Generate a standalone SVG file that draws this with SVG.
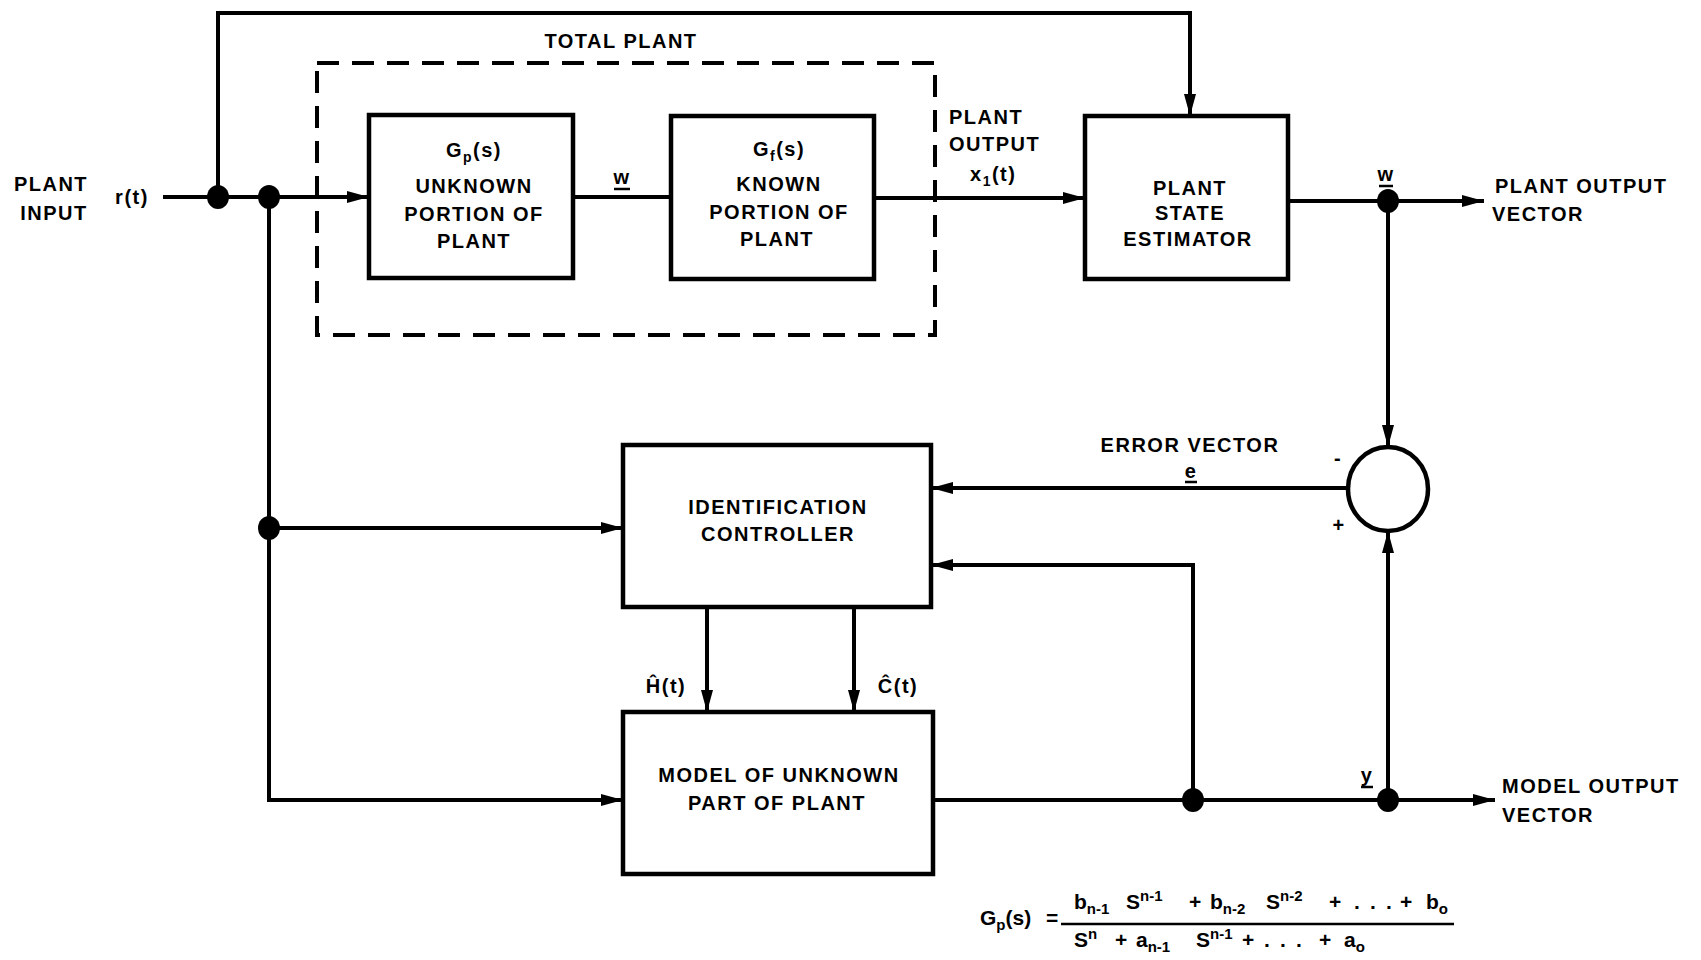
<svg xmlns="http://www.w3.org/2000/svg" width="1701" height="960" viewBox="0 0 1701 960">
<style>
.box{fill:none;stroke:#000;stroke-width:4.5}
.ln{fill:none;stroke:#000;stroke-width:4}
.dash{fill:none;stroke:#000;stroke-width:4;stroke-dasharray:22 13}
.t{font-family:"Liberation Sans",Arial,sans-serif;font-weight:bold;font-size:20px;letter-spacing:1.5px;fill:#000}
.m{text-anchor:middle}
.f{font-family:"Liberation Sans",Arial,sans-serif;font-weight:bold;font-size:21px;fill:#000}
.s{font-size:15px}
.dot{fill:#000}
</style>
<defs>
<marker id="ar" markerUnits="userSpaceOnUse" markerWidth="24" markerHeight="16" refX="22" refY="8" orient="auto">
<path d="M0,2 L22,8 L0,14 Z" fill="#000"/>
</marker>
</defs>
<rect width="1701" height="960" fill="#fff"/>

<g id="total-plant">
<rect class="dash" x="317" y="63" width="618" height="272"/>
<text class="t m" x="621" y="48">TOTAL PLANT</text>
</g>

<g id="gp-box">
<rect class="box" x="369" y="115" width="204" height="163"/>
<text class="t m" x="474" y="157">G<tspan font-size="14" dy="5">p</tspan><tspan dy="-5">(s)</tspan></text>
<text class="t m" x="474" y="193">UNKNOWN</text>
<text class="t m" x="474" y="221">PORTION OF</text>
<text class="t m" x="474" y="248">PLANT</text>
</g>

<g id="gf-box">
<rect class="box" x="671" y="116" width="203" height="163"/>
<text class="t m" x="779" y="156">G<tspan font-size="14" dy="5">f</tspan><tspan dy="-5">(s)</tspan></text>
<text class="t m" x="779" y="191">KNOWN</text>
<text class="t m" x="779" y="219">PORTION OF</text>
<text class="t m" x="777" y="246">PLANT</text>
</g>

<g id="pse-box">
<rect class="box" x="1085" y="116" width="203" height="163"/>
<text class="t m" x="1190" y="195">PLANT</text>
<text class="t m" x="1190" y="220">STATE</text>
<text class="t m" x="1188" y="246">ESTIMATOR</text>
</g>

<g id="id-controller">
<rect class="box" x="623" y="445" width="308" height="162"/>
<text class="t m" x="778" y="514">IDENTIFICATION</text>
<text class="t m" x="778" y="541">CONTROLLER</text>
</g>

<g id="model-box">
<rect class="box" x="623" y="712" width="310" height="162"/>
<text class="t m" x="779" y="782">MODEL OF UNKNOWN</text>
<text class="t m" x="777" y="810">PART OF PLANT</text>
</g>

<g id="summer">
<ellipse class="box" cx="1388" cy="489" rx="40" ry="42"/>
<text class="t m" x="1338" y="465">-</text>
<text class="t m" x="1339" y="532">+</text>
</g>

<g id="connectors">
<path class="ln" d="M163,197 H369" marker-end="url(#ar)"/>
<path class="ln" d="M218,197 V13 H1190 V116" marker-end="url(#ar)"/>
<path class="ln" d="M573,197 H671"/>
<path class="ln" d="M874,198 H1085" marker-end="url(#ar)"/>
<path class="ln" d="M1288,201 H1484" marker-end="url(#ar)"/>
<path class="ln" d="M1388,201 V447" marker-end="url(#ar)"/>
<path class="ln" d="M1348,488 H931" marker-end="url(#ar)"/>
<path class="ln" d="M269,197 V800 H623" marker-end="url(#ar)"/>
<path class="ln" d="M269,528 H623" marker-end="url(#ar)"/>
<path class="ln" d="M707,607 V712" marker-end="url(#ar)"/>
<path class="ln" d="M854,607 V712" marker-end="url(#ar)"/>
<path class="ln" d="M933,800 H1495" marker-end="url(#ar)"/>
<path class="ln" d="M1193,800 V565 H931" marker-end="url(#ar)"/>
<path class="ln" d="M1388,800 V531" marker-end="url(#ar)"/>
<ellipse class="dot" cx="218" cy="197" rx="11" ry="12"/>
<ellipse class="dot" cx="269" cy="197" rx="11" ry="12"/>
<ellipse class="dot" cx="269" cy="528" rx="11" ry="12"/>
<ellipse class="dot" cx="1388" cy="201" rx="11" ry="12"/>
<ellipse class="dot" cx="1193" cy="800" rx="11" ry="12"/>
<ellipse class="dot" cx="1388" cy="800" rx="11" ry="12"/>
</g>

<g id="labels">
<text class="t m" x="51" y="191">PLANT</text>
<text class="t m" x="54" y="220">INPUT</text>
<text class="t m" x="132" y="204">r(t)</text>
<text class="t m" x="622" y="184">w</text>
<line x1="614" y1="189" x2="630" y2="189" stroke="#000" stroke-width="2.5"/>
<text class="t" x="949" y="124">PLANT</text>
<text class="t" x="949" y="151">OUTPUT</text>
<text class="t" x="970" y="181">x<tspan font-size="14" dy="5">1</tspan><tspan dy="-5">(t)</tspan></text>
<text class="t m" x="1386" y="181">w</text>
<line x1="1379" y1="186" x2="1393" y2="186" stroke="#000" stroke-width="2.5"/>
<text class="t" x="1495" y="193">PLANT OUTPUT</text>
<text class="t" x="1492" y="221">VECTOR</text>
<text class="t m" x="1190" y="452">ERROR VECTOR</text>
<text class="t m" x="1191" y="478">e</text>
<line x1="1185" y1="482" x2="1197" y2="482" stroke="#000" stroke-width="2.5"/>
<text class="t m" x="666" y="693">Ĥ(t)</text>
<text class="t m" x="898" y="693">Ĉ(t)</text>
<text class="t m" x="1367" y="782">y</text>
<line x1="1361" y1="787" x2="1373" y2="787" stroke="#000" stroke-width="2.5"/>
<text class="t" x="1502" y="793">MODEL OUTPUT</text>
<text class="t" x="1502" y="822">VECTOR</text>
</g>

<g id="formula">
<text class="f" x="980" y="925">G<tspan class="s" dy="5">p</tspan><tspan dy="-5">(s)</tspan><tspan x="1046">=</tspan></text>
<line x1="1061" y1="924" x2="1454" y2="924" stroke="#000" stroke-width="2.5"/>
<text class="f" x="1074" y="909">b<tspan class="s" dy="5">n-1</tspan><tspan x="1126" dy="-5">S</tspan><tspan class="s" dy="-8">n-1</tspan><tspan x="1189" dy="8">+</tspan><tspan x="1210">b</tspan><tspan class="s" dy="5">n-2</tspan><tspan x="1266" dy="-5">S</tspan><tspan class="s" dy="-8">n-2</tspan><tspan x="1329" dy="8">+</tspan><tspan x="1354">.</tspan><tspan x="1370">.</tspan><tspan x="1386">.</tspan><tspan x="1400">+</tspan><tspan x="1426">b</tspan><tspan class="s" dy="5">o</tspan></text>
<text class="f" x="1074" y="947">S<tspan class="s" dy="-8">n</tspan><tspan x="1115" dy="8">+</tspan><tspan x="1136">a</tspan><tspan class="s" dy="5">n-1</tspan><tspan x="1196" dy="-5">S</tspan><tspan class="s" dy="-8">n-1</tspan><tspan x="1242" dy="8">+</tspan><tspan x="1264">.</tspan><tspan x="1280">.</tspan><tspan x="1296">.</tspan><tspan x="1319">+</tspan><tspan x="1344">a</tspan><tspan class="s" dy="5">o</tspan></text>
</g>
</svg>
